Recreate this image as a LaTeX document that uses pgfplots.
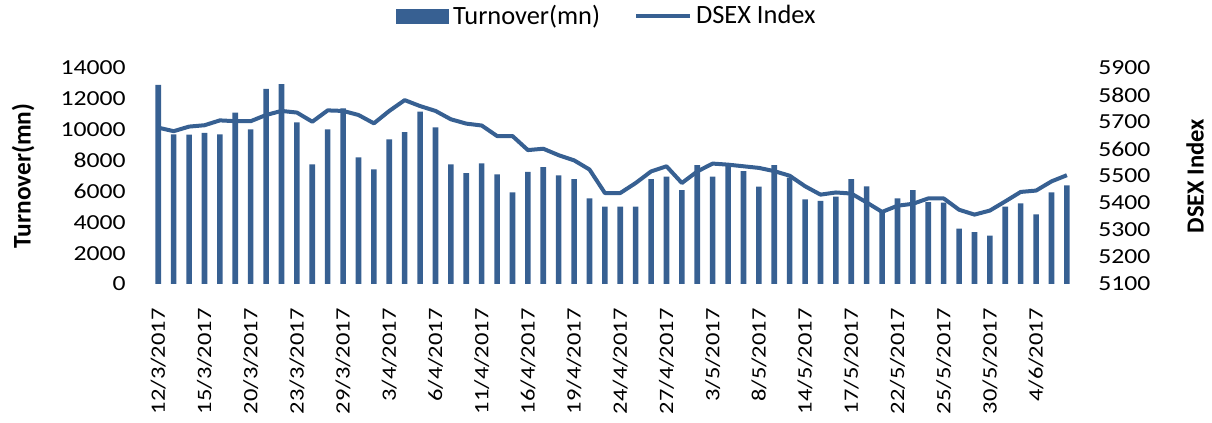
\documentclass[border=0pt]{standalone}
\usepackage{pgfplots}
\usepackage{pgfplotstable}
\pgfplotsset{compat=1.18}
\usepackage{fontspec}
\setmainfont{Carlito}
\newfontfamily\tickfont{Carlito}[FakeStretch=1.2]
\definecolor{barblue}{RGB}{55,96,146}
\pgfplotstableread{
k turnover dsex
0 12900 5679
1 9700 5666
2 9680 5683
3 9790 5688
4 9700 5706
5 11100 5703
6 10030 5703
7 12640 5726
8 12960 5741
9 10480 5735
10 7760 5701
11 10030 5743
12 11390 5741
13 8210 5726
14 7430 5695
15 9380 5741
16 9850 5781
17 11170 5759
18 10150 5741
19 7760 5710
20 7190 5694
21 7820 5687
22 7110 5648
23 5940 5648
24 7260 5596
25 7580 5601
26 7040 5577
27 6800 5558
28 5550 5524
29 5010 5437
30 5010 5437
31 5010 5474
32 6800 5517
33 6960 5536
34 6090 5474
35 7710 5517
36 6960 5546
37 7650 5542
38 7320 5536
39 6310 5530
40 7710 5518
41 6900 5501
42 5490 5462
43 5380 5431
44 5660 5439
45 6800 5435
46 6330 5402
47 4700 5367
48 5550 5390
49 6090 5397
50 5300 5417
51 5270 5417
52 3590 5375
53 3370 5357
54 3130 5372
55 5010 5406
56 5230 5441
57 4520 5446
58 5940 5480
59 6400 5503
}\data
\begin{document}
\begin{tikzpicture}
\useasboundingbox (-75.3pt,-69.5pt) rectangle (530.7pt,142pt);
\pgfplotsset{
  common/.style={
    width=462pt, height=108pt, scale only axis,
    xmin=-0.5, xmax=59.5,
    axis line style={draw=none},
    major tick length=0pt,
    scaled y ticks=false,
    tick label style={font=\tickfont\fontsize{10.7}{12}\selectfont, inner sep=0pt},
  }
}
\begin{axis}[common,
  ymin=0, ymax=14000,
  ytick={0,2000,...,14000},
  yticklabels={0,2000,4000,6000,8000,10000,12000,14000},
  yticklabel shift=12.3pt,
  xtick={0,3,...,57},
  xticklabels={12/3/2017,15/3/2017,20/3/2017,23/3/2017,29/3/2017,3/4/2017,6/4/2017,11/4/2017,16/4/2017,19/4/2017,24/4/2017,27/4/2017,3/5/2017,8/5/2017,14/5/2017,17/5/2017,22/5/2017,25/5/2017,30/5/2017,4/6/2017},
  xticklabel style={rotate=90, anchor=east, font=\tickfont\fontsize{10.2}{12}\selectfont},
  xticklabel shift=12pt,
  ylabel={Turnover(mn)},
  ylabel style={at={(axis description cs:-0.138,0.5)}, anchor=center, rotate=0, font=\bfseries\fontsize{12.7}{14}\selectfont},
]
\addplot[ybar, bar width=2.8pt, fill=barblue, draw=none] table[x=k, y=turnover] {\data};
\end{axis}
\begin{axis}[common,
  axis y line*=right,
  axis x line=none,
  ymin=5100, ymax=5900,
  ytick={5100,5200,...,5900},
  yticklabels={5100,5200,5300,5400,5500,5600,5700,5800,5900},
  yticklabel shift=11.7pt,
  ylabel={DSEX Index},
  ylabel style={at={(axis description cs:1.1303,0.5)}, anchor=center, rotate=0, font=\bfseries\fontsize{12.3}{14}\selectfont},
  legend style={at={(0.495,1.241)}, anchor=center, draw=none, fill=none, inner sep=0pt,
    legend columns=2, font=\fontsize{13.2}{15}\selectfont,
    /tikz/every even column/.append style={column sep=15pt}},
]
\addlegendimage{legend image code/.code={\fill[barblue] (0pt,-3.5pt) rectangle (26pt,3.5pt);}}
\addlegendentry{Turnover(mn)}
\addplot[barblue, line width=2pt, no markers, line join=round,
  legend image code/.code={\draw[barblue, line width=2pt] (0pt,0pt) -- (27pt,0pt);}]
  table[x=k, y=dsex] {\data};
\addlegendentry{DSEX Index}
\end{axis}
\end{tikzpicture}
\end{document}
